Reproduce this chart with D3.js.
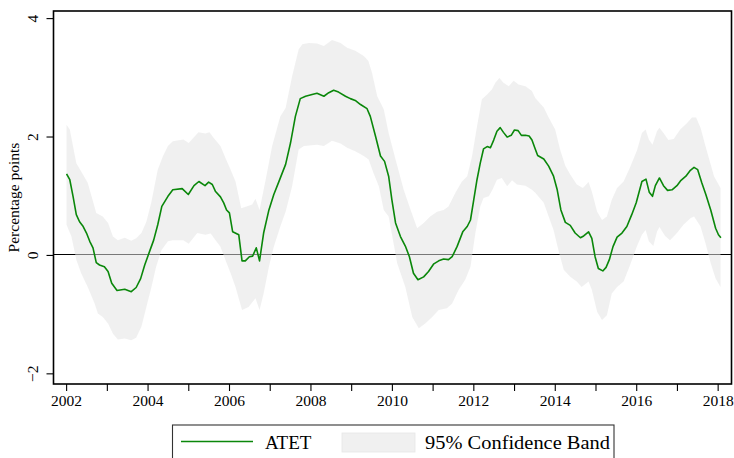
<!DOCTYPE html>
<html>
<head>
<meta charset="utf-8">
<script src="https://cdn.jsdelivr.net/npm/d3@7"></script>
<style>
  body { margin: 0; background: #fff; }
  svg { display: block; }
  text { font-family: "Liberation Serif", "Times New Roman", serif; fill: #000; }
</style>
</head>
<body>
<svg id="chart" width="734" height="458"></svg>
<script>
// ATET estimate, [year, percentage points]
const atet = [
  [2002.01,1.37],[2002.09,1.27],[2002.17,0.99],[2002.25,0.68],[2002.33,0.56],[2002.41,0.49],
  [2002.50,0.37],[2002.58,0.23],[2002.66,0.12],[2002.74,-0.13],[2002.82,-0.17],[2002.94,-0.20],
  [2003.03,-0.28],[2003.12,-0.48],[2003.25,-0.60],[2003.44,-0.58],[2003.60,-0.62],[2003.72,-0.55],
  [2003.83,-0.40],[2003.93,-0.17],[2004.05,0.06],[2004.15,0.25],[2004.25,0.51],[2004.35,0.82],
  [2004.50,0.99],[2004.62,1.10],[2004.85,1.12],[2005.00,1.02],[2005.14,1.17],[2005.26,1.24],
  [2005.41,1.17],[2005.50,1.23],[2005.59,1.19],[2005.67,1.07],[2005.79,0.98],[2005.87,0.88],
  [2005.94,0.76],[2006.01,0.71],[2006.09,0.39],[2006.24,0.34],[2006.32,-0.10],[2006.40,-0.10],
  [2006.50,-0.03],[2006.58,-0.02],[2006.67,0.12],[2006.75,-0.10],[2006.85,0.37],[2006.98,0.76],
  [2007.10,1.02],[2007.22,1.23],[2007.39,1.53],[2007.51,1.89],[2007.63,2.34],[2007.75,2.64],
  [2007.88,2.68],[2008.04,2.71],[2008.16,2.73],[2008.33,2.68],[2008.45,2.74],[2008.57,2.78],
  [2008.69,2.75],[2008.86,2.68],[2008.98,2.64],[2009.10,2.61],[2009.23,2.54],[2009.39,2.47],
  [2009.47,2.34],[2009.60,2.00],[2009.72,1.67],[2009.82,1.58],[2009.92,1.33],[2010.00,0.93],
  [2010.09,0.54],[2010.21,0.31],[2010.33,0.15],[2010.43,-0.03],[2010.53,-0.31],[2010.64,-0.42],
  [2010.78,-0.37],[2010.90,-0.28],[2011.03,-0.15],[2011.15,-0.10],[2011.27,-0.07],[2011.39,-0.08],
  [2011.48,-0.03],[2011.60,0.14],[2011.74,0.39],[2011.85,0.48],[2011.93,0.59],[2012.01,0.93],
  [2012.09,1.27],[2012.17,1.55],[2012.25,1.79],[2012.34,1.83],[2012.42,1.81],[2012.50,1.94],
  [2012.58,2.09],[2012.66,2.15],[2012.74,2.07],[2012.83,1.99],[2012.93,2.02],[2013.01,2.11],
  [2013.10,2.10],[2013.18,2.02],[2013.28,2.02],[2013.37,2.01],[2013.44,1.94],[2013.52,1.79],
  [2013.58,1.68],[2013.73,1.62],[2013.85,1.50],[2013.97,1.33],[2014.06,1.10],[2014.15,0.76],
  [2014.26,0.55],[2014.38,0.50],[2014.50,0.37],[2014.63,0.29],[2014.71,0.32],[2014.83,0.39],
  [2014.91,0.28],[2014.99,-0.03],[2015.07,-0.23],[2015.18,-0.27],[2015.26,-0.21],[2015.34,-0.08],
  [2015.43,0.14],[2015.53,0.30],[2015.65,0.37],[2015.77,0.48],[2015.89,0.68],[2016.00,0.88],
  [2016.14,1.24],[2016.24,1.28],[2016.32,1.06],[2016.40,0.99],[2016.47,1.17],[2016.57,1.30],
  [2016.67,1.17],[2016.77,1.09],[2016.88,1.10],[2017.00,1.17],[2017.10,1.26],[2017.22,1.33],
  [2017.33,1.43],[2017.42,1.48],[2017.51,1.44],[2017.61,1.22],[2017.71,1.02],[2017.83,0.76],
  [2017.95,0.45],[2018.02,0.34],[2018.08,0.29]
];

// Upper edge of the 95% confidence band
const bandUpper = [
  [2002.01,2.20],[2002.09,2.12],[2002.25,1.55],[2002.37,1.41],[2002.53,1.22],[2002.74,0.71],
  [2002.90,0.65],[2003.03,0.54],[2003.15,0.31],[2003.27,0.25],[2003.44,0.29],[2003.60,0.24],
  [2003.72,0.28],[2003.85,0.37],[2003.97,0.56],[2004.09,0.88],[2004.25,1.44],[2004.38,1.67],
  [2004.50,1.84],[2004.62,1.92],[2004.88,1.95],[2005.01,1.89],[2005.25,2.07],[2005.42,2.05],
  [2005.52,2.07],[2005.62,1.98],[2005.79,1.84],[2005.91,1.64],[2006.04,1.44],[2006.16,1.24],
  [2006.30,0.79],[2006.43,0.82],[2006.57,0.85],[2006.65,0.95],[2006.75,0.76],[2006.90,1.27],
  [2007.06,1.84],[2007.26,2.34],[2007.39,2.48],[2007.55,3.02],[2007.71,3.47],[2007.80,3.56],
  [2007.96,3.58],[2008.16,3.57],[2008.33,3.53],[2008.53,3.63],[2008.74,3.58],[2008.90,3.50],
  [2009.10,3.45],[2009.31,3.36],[2009.42,3.28],[2009.51,3.08],[2009.64,2.68],[2009.80,2.46],
  [2009.92,2.06],[2010.09,1.61],[2010.29,1.10],[2010.45,0.78],[2010.62,0.45],[2010.78,0.54],
  [2010.94,0.65],[2011.11,0.73],[2011.27,0.76],[2011.39,0.82],[2011.56,1.05],[2011.72,1.24],
  [2011.85,1.33],[2011.97,1.67],[2012.09,2.17],[2012.21,2.63],[2012.34,2.71],[2012.46,2.80],
  [2012.54,2.91],[2012.64,2.99],[2012.74,2.91],[2012.87,2.85],[2012.99,2.94],[2013.11,2.88],
  [2013.28,2.85],[2013.44,2.77],[2013.52,2.65],[2013.73,2.49],[2013.85,2.32],[2014.01,2.12],
  [2014.13,1.78],[2014.26,1.50],[2014.38,1.36],[2014.54,1.19],[2014.69,1.13],[2014.83,1.23],
  [2014.91,1.07],[2015.04,0.73],[2015.16,0.59],[2015.28,0.65],[2015.40,0.93],[2015.53,1.13],
  [2015.69,1.24],[2015.85,1.48],[2016.02,1.77],[2016.14,2.06],[2016.23,2.12],[2016.31,1.95],
  [2016.40,1.86],[2016.51,2.09],[2016.57,2.15],[2016.67,2.06],[2016.79,1.94],[2016.92,1.96],
  [2017.08,2.12],[2017.25,2.23],[2017.37,2.32],[2017.47,2.32],[2017.58,2.15],[2017.70,1.84],
  [2017.91,1.33],[2018.07,1.13]
];

// Lower edge of the 95% confidence band
const bandLower = [
  [2002.01,0.51],[2002.13,0.31],[2002.25,-0.08],[2002.37,-0.31],[2002.53,-0.54],[2002.70,-0.82],
  [2002.78,-0.99],[2002.90,-1.05],[2003.03,-1.16],[2003.15,-1.33],[2003.27,-1.43],[2003.44,-1.41],
  [2003.60,-1.44],[2003.72,-1.40],[2003.85,-1.21],[2003.97,-0.88],[2004.09,-0.56],[2004.21,-0.20],
  [2004.34,0.08],[2004.50,0.23],[2004.62,0.25],[2004.88,0.25],[2005.01,0.19],[2005.22,0.37],
  [2005.42,0.34],[2005.55,0.36],[2005.67,0.25],[2005.79,0.14],[2005.91,-0.08],[2006.04,-0.31],
  [2006.16,-0.54],[2006.32,-0.93],[2006.48,-0.88],[2006.65,-0.73],[2006.75,-0.93],[2006.85,-0.65],
  [2006.98,-0.20],[2007.10,0.14],[2007.26,0.48],[2007.39,0.73],[2007.55,1.16],[2007.71,1.78],
  [2007.84,1.84],[2008.16,1.86],[2008.33,1.84],[2008.53,1.93],[2008.74,1.88],[2008.90,1.81],
  [2009.10,1.75],[2009.31,1.67],[2009.43,1.61],[2009.55,1.38],[2009.68,1.16],[2009.80,0.76],
  [2009.92,0.65],[2010.04,0.20],[2010.13,-0.14],[2010.33,-0.54],[2010.50,-1.05],[2010.66,-1.24],
  [2010.82,-1.16],[2010.99,-1.05],[2011.15,-0.93],[2011.35,-0.90],[2011.48,-0.82],[2011.64,-0.59],
  [2011.80,-0.42],[2011.93,-0.20],[2012.05,0.37],[2012.17,0.82],[2012.25,0.96],[2012.38,0.99],
  [2012.47,1.10],[2012.58,1.27],[2012.70,1.30],[2012.83,1.16],[2012.95,1.26],[2013.07,1.19],
  [2013.28,1.17],[2013.44,1.10],[2013.52,1.05],[2013.73,0.88],[2013.85,0.65],[2013.97,0.42],
  [2014.09,0.08],[2014.22,-0.25],[2014.38,-0.37],[2014.54,-0.45],[2014.66,-0.54],[2014.83,-0.45],
  [2014.91,-0.59],[2015.04,-0.96],[2015.16,-1.10],[2015.28,-1.02],[2015.40,-0.65],[2015.53,-0.54],
  [2015.69,-0.45],[2015.85,-0.17],[2016.02,0.15],[2016.14,0.34],[2016.23,0.42],[2016.31,0.23],
  [2016.42,0.15],[2016.51,0.39],[2016.57,0.47],[2016.71,0.32],[2016.83,0.25],[2017.00,0.37],
  [2017.16,0.51],[2017.33,0.62],[2017.42,0.65],[2017.58,0.48],[2017.70,0.20],[2017.83,-0.14],
  [2017.95,-0.40],[2018.07,-0.54]
];

const xTickYears = d3.range(2002, 2019);          // a tick every year
const xLabelYears = d3.range(2002, 2019, 2);      // labels every other year
const yTickValues = [-2, 0, 2, 4];
const yTitle = "Percentage points";
const legendLabels = ["ATET", "95% Confidence Band"];

const lineColor = "#0a870a";
const svg = d3.select("#chart");

const plot = { left: 53.5, right: 731.5, top: 11, bottom: 384 };

const x = d3.scaleLinear()
  .domain([2001.69, 2018.34])
  .range([plot.left, plot.right]);
const y = d3.scaleLinear()
  .domain([-2.18, 4.12])
  .range([plot.bottom, plot.top]);

// zero reference line (sits under the translucent band), snapped to a pixel row
const y0 = Math.floor(y(0)) + 0.5;
svg.append("line")
  .attr("x1", plot.left).attr("x2", plot.right)
  .attr("y1", y0).attr("y2", y0)
  .attr("stroke", "#000").attr("stroke-width", 1);

// confidence band as a closed polygon: upper edge forward, lower edge back
const bandPts = bandUpper.concat(bandLower.slice().reverse());
const edge = d3.line().x(d => x(d[0])).y(d => y(d[1]));
svg.append("path")
  .attr("d", edge(bandPts) + "Z")
  .attr("fill", "rgb(226,226,226)")
  .attr("fill-opacity", 0.53)
  .attr("stroke", "none");

// ATET line
svg.append("path")
  .datum(atet)
  .attr("d", edge)
  .attr("fill", "none")
  .attr("stroke", lineColor)
  .attr("stroke-width", 1.6)
  .attr("stroke-linejoin", "round");

// x axis
const xAxis = d3.axisBottom(x)
  .tickValues(xTickYears)
  .tickSize(7)
  .tickFormat(d => xLabelYears.includes(d) ? String(d) : "");
const gx = svg.append("g")
  .attr("transform", `translate(0,${plot.bottom})`)
  .call(xAxis);
gx.select(".domain").remove();
gx.selectAll(".tick line").attr("stroke", "#000").attr("stroke-width", 1.1);
gx.selectAll(".tick text")
  .attr("y", 11)
  .attr("dy", "0.71em")
  .style("font-family", '"Liberation Serif", serif')
  .style("font-size", "15.5px")
  .attr("fill", "#000");

// y axis with rotated labels
const yAxis = d3.axisLeft(y)
  .tickValues(yTickValues)
  .tickSize(7)
  .tickFormat(d3.format("d"));
const gy = svg.append("g")
  .attr("transform", `translate(${plot.left},0)`)
  .call(yAxis);
gy.select(".domain").remove();
gy.selectAll(".tick line").attr("stroke", "#000").attr("stroke-width", 1.1);
gy.selectAll(".tick text")
  .attr("x", null)
  .attr("text-anchor", "middle")
  .attr("transform", "translate(-21,0) rotate(-90)")
  .attr("y", 0)
  .attr("dy", "0.35em")
  .style("font-family", '"Liberation Serif", serif')
  .style("font-size", "15.5px")
  .attr("fill", "#000");

// y title
svg.append("text")
  .attr("transform", `translate(19,${(plot.top + plot.bottom) / 2}) rotate(-90)`)
  .attr("text-anchor", "middle")
  .style("font-size", "15.5px")
  .text(yTitle);

// plot frame
svg.append("rect")
  .attr("x", plot.left).attr("y", plot.top)
  .attr("width", plot.right - plot.left).attr("height", plot.bottom - plot.top)
  .attr("fill", "none").attr("stroke", "#000").attr("stroke-width", 1.6);

// legend
const lg = svg.append("g");
lg.append("rect")
  .attr("x", 172.5).attr("y", 425)
  .attr("width", 441.5).attr("height", 50)
  .attr("fill", "#fff").attr("stroke", "#333").attr("stroke-width", 1.1);
lg.append("line")
  .attr("x1", 181).attr("x2", 253)
  .attr("y1", 441.5).attr("y2", 441.5)
  .attr("stroke", lineColor).attr("stroke-width", 1.6);
lg.append("text")
  .attr("x", 265).attr("y", 449)
  .style("font-size", "19px")
  .text(legendLabels[0]);
lg.append("rect")
  .attr("x", 342).attr("y", 433)
  .attr("width", 73).attr("height", 19)
  .attr("fill", "rgb(226,226,226)").attr("fill-opacity", 0.53)
  .attr("stroke", "#e6e6e6").attr("stroke-width", 0.8);
lg.append("text")
  .attr("x", 425).attr("y", 449)
  .style("font-size", "19px")
  .attr("textLength", 185)
  .attr("lengthAdjust", "spacingAndGlyphs")
  .text(legendLabels[1]);
</script>
</body>
</html>
